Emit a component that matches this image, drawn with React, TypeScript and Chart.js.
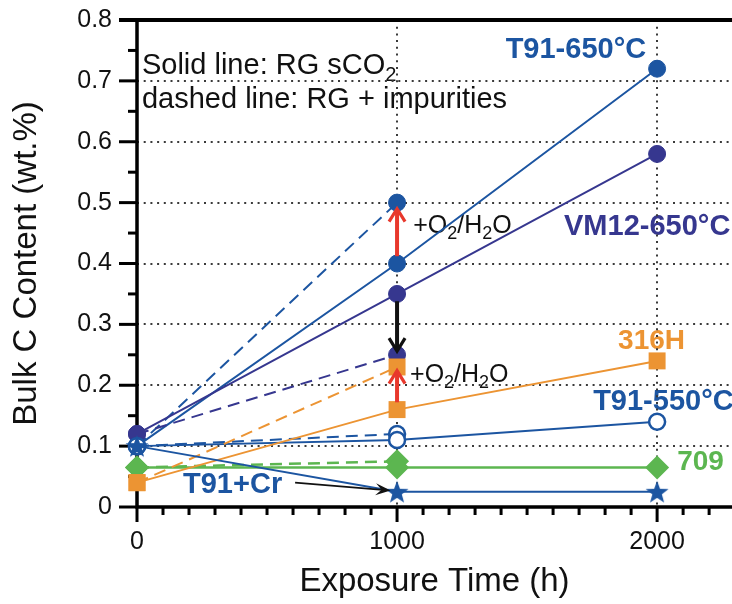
import React, { useEffect, useRef } from 'react';
import { Chart, registerables } from 'chart.js';

Chart.register(...registerables);

// ---------- data ----------
const hours = [0, 1000, 2000];
const hoursImp = [0, 1000];

const t91at650 = [0.1, 0.4, 0.72];
const t91at650Imp = [0.1, 0.5];
const vm12at650 = [0.12, 0.35, 0.58];
const vm12at650Imp = [0.12, 0.25];
const h316 = [0.04, 0.16, 0.24];
const h316Imp = [0.04, 0.23];
const t91at550 = [0.1, 0.11, 0.14];
const t91at550Imp = [0.1, 0.12];
const alloy709 = [0.065, 0.065, 0.065];
const alloy709Imp = [0.065, 0.075];
const t91Cr = [0.1, 0.025, 0.025];

const xTickValues = [0, 1000, 2000];
const xTickLabels = ['0', '1000', '2000'];
const yTickValues = [0, 0.1, 0.2, 0.3, 0.4, 0.5, 0.6, 0.7, 0.8];
const yTickLabels = ['0', '0.1', '0.2', '0.3', '0.4', '0.5', '0.6', '0.7', '0.8'];

const X_MAX = 2288;
const Y_MAX = 0.8;

// ---------- styles ----------
const FONT = '"Liberation Sans", Arial, Helvetica, sans-serif';
const BLUE = '#1c55a1';
const INDIGO = '#36378f';
const ORANGE = '#ec9433';
const GREEN = '#5cb650';
const RED = '#e8382c';
const INK = '#111111';

// annotation anchors in data coordinates
const seriesLabels = [
  { text: 'T91-650°C', x: 1958, y: 0.7376, align: 'right', color: BLUE, size: 29 },
  { text: 'VM12-650°C', x: 1642, y: 0.4468, align: 'left', color: INDIGO, size: 29 },
  { text: '316H', x: 1850, y: 0.2595, align: 'left', color: ORANGE, size: 28 },
  { text: 'T91-550°C', x: 1754, y: 0.1593, align: 'left', color: BLUE, size: 29 },
  { text: '709', x: 2077, y: 0.0608, align: 'left', color: GREEN, size: 28 },
  { text: 'T91+Cr', x: 177, y: 0.023, align: 'left', color: BLUE, size: 29 },
];

type Seg = { t: string; sub?: boolean };
const richTexts: { segs: Seg[]; x: number; y: number; size: number }[] = [
  { segs: [{ t: 'Solid line: RG sCO' }, { t: '2', sub: true }], x: 19, y: 0.711, size: 29 },
  { segs: [{ t: 'dashed line: RG + impurities' }], x: 19, y: 0.655, size: 29 },
  { segs: [{ t: '+O' }, { t: '2', sub: true }, { t: '/H' }, { t: '2', sub: true }, { t: 'O' }], x: 1062, y: 0.45, size: 25 },
  { segs: [{ t: '+O' }, { t: '2', sub: true }, { t: '/H' }, { t: '2', sub: true }, { t: 'O' }], x: 1050, y: 0.205, size: 25 },
];

const arrows = [
  { x0: 1000, y0: 0.412, x1: 1000, y1: 0.49, color: RED, width: 4, kind: 'open' },
  { x0: 1000, y0: 0.338, x1: 1000, y1: 0.256, color: INK, width: 4, kind: 'open' },
  { x0: 1000, y0: 0.172, x1: 1000, y1: 0.224, color: RED, width: 4, kind: 'open' },
  { x0: 608, y0: 0.04, x1: 975, y1: 0.027, color: INK, width: 1.6, kind: 'filled' },
];

function pts(xs: number[], ys: number[]) {
  return xs.map((x, i) => ({ x, y: ys[i] }));
}

function makeStar(color: string, R: number, r: number) {
  const s = Math.ceil(2 * R + 4);
  const c = document.createElement('canvas');
  c.width = s;
  c.height = s;
  const g = c.getContext('2d')!;
  g.translate(s / 2, s / 2 + 1);
  g.beginPath();
  for (let i = 0; i < 10; i++) {
    const rad = i % 2 === 0 ? R : r;
    const a = -Math.PI / 2 + (i * Math.PI) / 5;
    const px = Math.cos(a) * rad;
    const py = Math.sin(a) * rad;
    if (i === 0) g.moveTo(px, py);
    else g.lineTo(px, py);
  }
  g.closePath();
  g.fillStyle = color;
  g.fill();
  return c;
}

function drawRich(ctx: CanvasRenderingContext2D, segs: Seg[], x: number, y: number, size: number) {
  let cx = x;
  for (const s of segs) {
    const fs = s.sub ? Math.round(size * 0.7) : size;
    ctx.font = `${fs}px ${FONT}`;
    ctx.fillText(s.t, cx, s.sub ? y + size * 0.25 : y);
    cx += ctx.measureText(s.t).width;
  }
}

function drawArrow(ctx: CanvasRenderingContext2D, x0: number, y0: number, x1: number, y1: number, color: string, w: number, kind: string) {
  const a = Math.atan2(y1 - y0, x1 - x0);
  ctx.save();
  ctx.strokeStyle = color;
  ctx.fillStyle = color;
  ctx.lineWidth = w;
  ctx.lineCap = 'butt';
  if (kind === 'open') {
    const hl = 13;
    const hw = 8;
    ctx.beginPath();
    ctx.moveTo(x0, y0);
    ctx.lineTo(x1 - Math.cos(a) * 2, y1 - Math.sin(a) * 2);
    ctx.stroke();
    ctx.lineWidth = w * 0.8;
    ctx.lineJoin = 'miter';
    ctx.beginPath();
    ctx.moveTo(x1 - Math.cos(a) * hl - Math.sin(a) * hw, y1 - Math.sin(a) * hl + Math.cos(a) * hw);
    ctx.lineTo(x1, y1);
    ctx.lineTo(x1 - Math.cos(a) * hl + Math.sin(a) * hw, y1 - Math.sin(a) * hl - Math.cos(a) * hw);
    ctx.stroke();
  } else {
    const hl = 15;
    const hw = 6;
    ctx.beginPath();
    ctx.moveTo(x0, y0);
    ctx.lineTo(x1 - Math.cos(a) * 8, y1 - Math.sin(a) * 8);
    ctx.stroke();
    ctx.beginPath();
    ctx.moveTo(x1, y1);
    ctx.lineTo(x1 - Math.cos(a) * hl - Math.sin(a) * hw, y1 - Math.sin(a) * hl + Math.cos(a) * hw);
    ctx.lineTo(x1 - Math.cos(a) * (hl * 0.6), y1 - Math.sin(a) * (hl * 0.6));
    ctx.lineTo(x1 - Math.cos(a) * hl + Math.sin(a) * hw, y1 - Math.sin(a) * hl - Math.cos(a) * hw);
    ctx.closePath();
    ctx.fill();
  }
  ctx.restore();
}

const decoPlugin = {
  id: 'deco',
  beforeDraw(chart: any) {
    const { ctx, scales } = chart;
    const xs = scales.x;
    const ys = scales.y;
    ctx.save();
    ctx.textBaseline = 'alphabetic';
    for (const l of seriesLabels) {
      ctx.font = `bold ${l.size}px ${FONT}`;
      ctx.fillStyle = l.color;
      ctx.textAlign = l.align as CanvasTextAlign;
      ctx.fillText(l.text, xs.getPixelForValue(l.x), ys.getPixelForValue(l.y));
    }
    ctx.textAlign = 'left';
    ctx.fillStyle = INK;
    for (const r of richTexts) {
      drawRich(ctx, r.segs, xs.getPixelForValue(r.x), ys.getPixelForValue(r.y), r.size);
    }
    ctx.restore();
  },
  beforeDatasetsDraw(chart: any) {
    const { ctx, chartArea, scales } = chart;
    const { left, right, top, bottom } = chartArea;
    const xs = scales.x;
    const ys = scales.y;
    ctx.save();
    ctx.strokeStyle = '#000';
    ctx.lineCap = 'butt';
    ctx.lineWidth = 3;
    // y tick marks (outward), major every 0.1, minor every 0.05
    for (let i = 0; i <= 16; i++) {
      const py = ys.getPixelForValue(i * 0.05);
      const len = i % 2 === 0 ? 18 : 9;
      ctx.beginPath();
      ctx.moveTo(left - len, py);
      ctx.lineTo(left, py);
      ctx.stroke();
    }
    // x tick marks (outward), major every 1000, minor every 100
    for (let i = 0; i <= 22; i++) {
      const px = xs.getPixelForValue(i * 100);
      const len = i % 10 === 0 ? 15 : 8;
      ctx.beginPath();
      ctx.moveTo(px, bottom);
      ctx.lineTo(px, bottom + len);
      ctx.stroke();
    }
    // axis lines
    ctx.lineWidth = 3.5;
    ctx.beginPath();
    ctx.moveTo(left, top - 2);
    ctx.lineTo(left, bottom + 1.5);
    ctx.moveTo(left - 1.5, bottom);
    ctx.lineTo(right, bottom);
    ctx.stroke();
    ctx.lineWidth = 4;
    ctx.beginPath();
    ctx.moveTo(left - 18, top);
    ctx.lineTo(right, top);
    ctx.stroke();
    ctx.restore();
  },
  afterDatasetsDraw(chart: any) {
    const { ctx, scales } = chart;
    const xs = scales.x;
    const ys = scales.y;
    for (const a of arrows) {
      drawArrow(
        ctx,
        xs.getPixelForValue(a.x0),
        ys.getPixelForValue(a.y0),
        xs.getPixelForValue(a.x1),
        ys.getPixelForValue(a.y1),
        a.color,
        a.width,
        a.kind
      );
    }
  },
};

export default function App() {
  const ref = useRef<HTMLCanvasElement | null>(null);

  useEffect(() => {
    document.body.style.margin = '0';
    const canvas = ref.current;
    if (!canvas) return;
    const star = makeStar(BLUE, 12, 5);
    const DASH = [12, 7];

    const circle = (color: string) => ({
      pointStyle: 'circle',
      pointRadius: 8.5,
      pointBackgroundColor: color,
      pointBorderColor: color,
      pointBorderWidth: 1,
    });

    const datasets: any[] = [
      // top-most first
      {
        label: 'T91+Cr',
        data: pts(hours, t91Cr),
        borderColor: BLUE,
        borderWidth: 2,
        pointStyle: star,
      },
      {
        label: '316H impurities',
        data: pts(hoursImp, h316Imp),
        borderColor: ORANGE,
        borderWidth: 2,
        borderDash: DASH,
        pointStyle: 'rect',
        pointRadius: 12,
        pointBackgroundColor: ORANGE,
        pointBorderColor: ORANGE,
        pointBorderWidth: 0,
      },
      {
        label: '316H',
        data: pts(hours, h316),
        borderColor: ORANGE,
        borderWidth: 2,
        pointStyle: 'rect',
        pointRadius: 12,
        pointBackgroundColor: ORANGE,
        pointBorderColor: ORANGE,
        pointBorderWidth: 0,
      },
      {
        label: '709',
        data: pts(hours, alloy709),
        borderColor: GREEN,
        borderWidth: 2.5,
        pointStyle: 'rectRot',
        pointRadius: 12,
        pointBackgroundColor: GREEN,
        pointBorderColor: GREEN,
        pointBorderWidth: 0,
      },
      {
        label: '709 impurities',
        data: pts(hoursImp, alloy709Imp),
        borderColor: GREEN,
        borderWidth: 2.5,
        borderDash: DASH,
        pointStyle: 'rectRot',
        pointRadius: 12,
        pointBackgroundColor: GREEN,
        pointBorderColor: GREEN,
        pointBorderWidth: 0,
      },
      {
        label: 'T91-550',
        data: pts(hours, t91at550),
        borderColor: BLUE,
        borderWidth: 2,
        pointStyle: 'circle',
        pointRadius: 8,
        pointBackgroundColor: '#ffffff',
        pointBorderColor: BLUE,
        pointBorderWidth: 2.5,
      },
      {
        label: 'T91-550 impurities',
        data: pts(hoursImp, t91at550Imp),
        borderColor: BLUE,
        borderWidth: 2,
        borderDash: DASH,
        pointStyle: 'circle',
        pointRadius: 8,
        pointBackgroundColor: '#ffffff',
        pointBorderColor: BLUE,
        pointBorderWidth: 2.5,
      },
      {
        label: 'VM12-650 impurities',
        data: pts(hoursImp, vm12at650Imp),
        borderColor: INDIGO,
        borderWidth: 2,
        borderDash: DASH,
        ...circle(INDIGO),
      },
      {
        label: 'VM12-650',
        data: pts(hours, vm12at650),
        borderColor: INDIGO,
        borderWidth: 2,
        ...circle(INDIGO),
      },
      {
        label: 'T91-650 impurities',
        data: pts(hoursImp, t91at650Imp),
        borderColor: BLUE,
        borderWidth: 2,
        borderDash: DASH,
        ...circle(BLUE),
      },
      {
        label: 'T91-650',
        data: pts(hours, t91at650),
        borderColor: BLUE,
        borderWidth: 2,
        ...circle(BLUE),
      },
    ].map((d) => ({ ...d, showLine: true, fill: false, clip: false, tension: 0 }));

    const chart = new Chart(canvas, {
      type: 'scatter',
      data: { datasets },
      plugins: [decoPlugin],
      options: {
        animation: false,
        responsive: false,
        devicePixelRatio: 1,
        events: [],
        layout: { autoPadding: false, padding: { top: 20, right: 0, bottom: 0, left: 0 } },
        plugins: { legend: { display: false }, tooltip: { enabled: false } },
        scales: {
          x: {
            type: 'linear',
            min: 0,
            max: X_MAX,
            afterBuildTicks: (s: any) => {
              s.ticks = xTickValues.map((value) => ({ value }));
            },
            afterFit: (s: any) => {
              s.height = 97;
              s.paddingLeft = 0;
              s.paddingRight = 0;
            },
            ticks: {
              autoSkip: false,
              maxRotation: 0,
              padding: 20,
              color: INK,
              font: { family: FONT, size: 25 },
              callback: (_v: any, i: number) => xTickLabels[i] ?? '',
            },
            grid: {
              drawTicks: false,
              lineWidth: 2,
              color: (c: any) =>
                c.tick && c.tick.value > 0 && c.tick.value < X_MAX ? '#3a3a3a' : 'rgba(0,0,0,0)',
            },
            border: { display: false, dash: [2, 4.7] },
            title: {
              display: true,
              text: 'Exposure Time (h)',
              color: INK,
              font: { family: FONT, size: 33 },
              padding: { top: 0, bottom: 2 },
            },
          },
          y: {
            type: 'linear',
            min: 0,
            max: Y_MAX,
            afterBuildTicks: (s: any) => {
              s.ticks = yTickValues.map((value) => ({ value }));
            },
            afterFit: (s: any) => {
              s.width = 137;
              s.paddingTop = 0;
              s.paddingBottom = 0;
            },
            ticks: {
              autoSkip: false,
              padding: 25,
              color: INK,
              font: { family: FONT, size: 25 },
              callback: (_v: any, i: number) => yTickLabels[i] ?? '',
            },
            grid: {
              drawTicks: false,
              lineWidth: 2,
              color: (c: any) =>
                c.tick && c.tick.value > 0.001 && c.tick.value < Y_MAX - 0.001 ? '#3a3a3a' : 'rgba(0,0,0,0)',
            },
            border: { display: false, dash: [2, 4.7] },
            title: {
              display: true,
              text: 'Bulk C Content (wt.%)',
              color: INK,
              font: { family: FONT, size: 33 },
              padding: { top: 7, bottom: 0 },
            },
          },
        },
      } as any,
    });

    return () => {
      chart.destroy();
    };
  }, []);

  return (
    <div style={{ width: 732, height: 604, position: 'relative', background: '#fff' }}>
      <canvas ref={ref} width={732} height={604} style={{ display: 'block' }} />
    </div>
  );
}
